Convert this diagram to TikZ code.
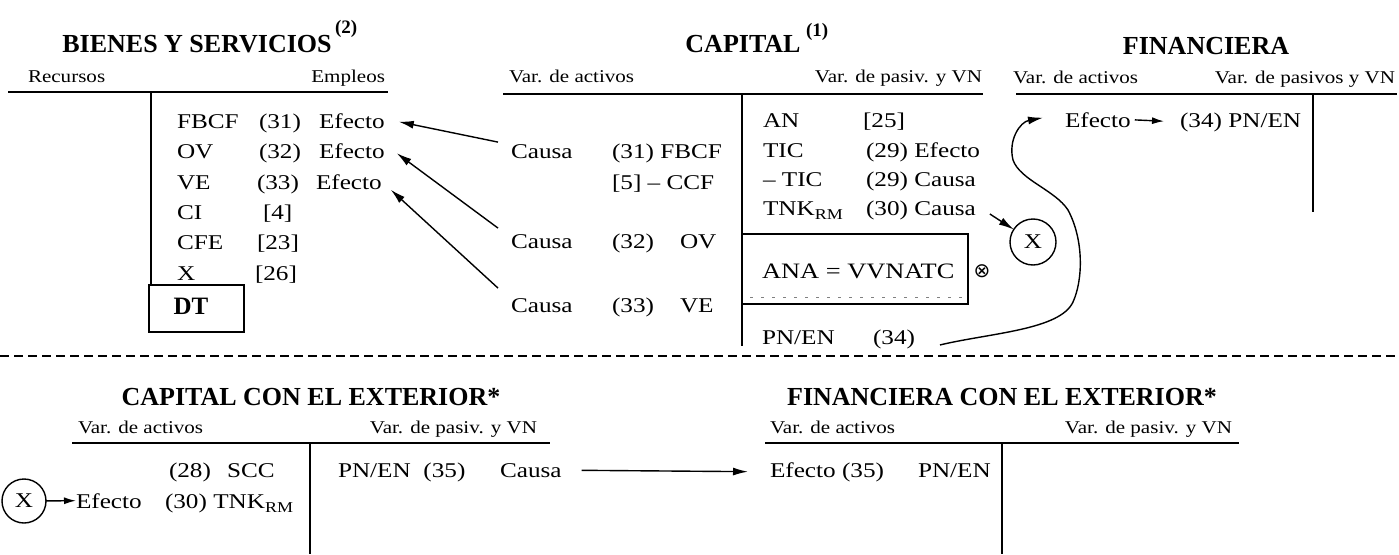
\documentclass[tikz,border=0pt]{standalone}
\usepackage{fontspec}
\setmainfont{Liberation Serif}
\newfontfamily\bodyfont[FakeStretch=1.2,Ligatures=TeX]{Liberation Serif}
\newfontfamily\labfont[FakeStretch=1.17,Ligatures=TeX]{Liberation Serif}
\newfontfamily\symfont{DejaVu Sans}
\usetikzlibrary{arrows.meta,calc}
% lowered "RM" index used in TNK_RM
\newcommand{\rmidx}{\raisebox{-0.22em}{\fontsize{15}{15}\selectfont RM}}

\tikzset{
  every node/.style={inner sep=0pt, outer sep=0pt},
  txt/.style={anchor=base west, font=\bodyfont\fontsize{21}{25}\selectfont},
  lab/.style={anchor=base west, font=\labfont\fontsize{18}{20}\selectfont},
  labr/.style={anchor=base east, font=\labfont\fontsize{18}{20}\selectfont},
  ttl/.style={anchor=base, font=\bfseries\fontsize{26}{30}\selectfont},
  supmark/.style={anchor=base west, font=\bfseries\fontsize{19}{20}\selectfont},
  rule/.style={line width=1.8pt},
  arr/.style={line width=1.4pt, -{Latex[length=15pt,width=8pt]}},
  sarr/.style={line width=1.4pt, -{Latex[length=12pt,width=7pt]}},
  xcirc/.style={circle, draw, line width=1.4pt, minimum size=46pt,
                font=\bodyfont\fontsize{21}{25}\selectfont},
}

\begin{document}
\begin{tikzpicture}[x=1pt,y=-1pt]
\useasboundingbox (0,0) rectangle (1399,554);

% ---------------- BIENES Y SERVICIOS ----------------
\node[ttl] (tBS) at (197,52) {BIENES Y SERVICIOS};
\node[supmark] (sBS) at (335,33) {(2)};
\node[lab] (recursos) at (28,82) {Recursos};
\node[labr] (empleos) at (385,82) {Empleos};
\draw[rule] (8,92) -- (388,92);
\draw[rule] (151,92) -- (151,285);

\node[txt] (bs1a) at (177,128) {FBCF};
\node[txt] (bs1b) at (259,128) {(31)};
\node[txt] (ef1)  at (319,128) {Efecto};
\node[txt] (bs2a) at (177,158.5) {OV};
\node[txt] (bs2b) at (259,158.5) {(32)};
\node[txt] (ef2)  at (319,158.5) {Efecto};
\node[txt] (bs3a) at (177,189) {VE};
\node[txt] (bs3b) at (257,189) {(33)};
\node[txt] (ef3)  at (316,189) {Efecto};
\node[txt] (bs4a) at (177,219) {CI};
\node[txt] (bs4b) at (263,219) {[4]};
\node[txt] (bs5a) at (177,249.5) {CFE};
\node[txt] (bs5b) at (257,249.5) {[23]};
\node[txt] (bs6a) at (177,280) {X};
\node[txt] (bs6b) at (255,280) {[26]};

\draw[rule] (149,285) rectangle (244,332);
\node[anchor=base, font=\bfseries\fontsize{25}{28}\selectfont] (dt) at (191,314) {DT};

% ---------------- CAPITAL ----------------
\node[ttl] (tCap) at (743,52) {CAPITAL};
\node[supmark] (sCap) at (806,36) {(1)};
\node[lab] (capva) at (509,82) {Var. de activos};
\node[labr] (capvp) at (982,82) {Var. de pasiv. y VN};
\draw[rule] (503,94) -- (983,94);
\draw[rule] (742,94) -- (742,346);

\node[txt] (ca1) at (511,158) {Causa};
\node[txt] (cfb) at (612,158) {(31) FBCF};
\node[txt] (ccf) at (612,189) {[5] – CCF};
\node[txt] (ca2) at (511,248) {Causa};
\node[txt] (c32) at (612,248) {(32)};
\node[txt] (cov) at (680,248) {OV};
\node[txt] (ca3) at (511,312) {Causa};
\node[txt] (c33) at (612,312) {(33)};
\node[txt] (cve) at (680,312) {VE};

\node[txt] (an)   at (763,127) {AN};
\node[txt] (an25) at (863,127) {[25]};
\node[txt] (tic)  at (763,157) {TIC};
\node[txt] (t29e) at (866,157) {(29) Efecto};
\node[txt] (mtic) at (763,186) {– TIC};
\node[txt] (t29c) at (866,186) {(29) Causa};
\node[txt] (tnk)  at (763,215) {TNK\rmidx};
\node[txt] (c30)  at (866,215) {(30) Causa};

\draw[rule] (742,234) rectangle (968,304);
\draw[line width=1pt, gray, dash pattern=on 3pt off 8pt] (750,297) -- (962,297);
\node[txt, font=\bodyfont\fontsize{22}{26}\selectfont] (ana) at (762,278) {ANA = VVNATC};
\node[font=\symfont\fontsize{20}{22}\selectfont] (otimes) at (982,271) {⊗};

\node[txt] (pn34a) at (762,344) {PN/EN};
\node[txt] (pn34b) at (873,344) {(34)};

\node[xcirc] (cx1) at (1033,242) {X};

% ---------------- FINANCIERA ----------------
\node[ttl] (tFin) at (1206,54) {FINANCIERA};
\node[lab] (finva) at (1013,83) {Var. de activos};
\node[labr] (finvp) at (1395,83) {Var. de pasivos y VN};
\draw[rule] (1016,94) -- (1397,94);
\draw[rule] (1313,94) -- (1313,212);
\node[txt] (effin) at (1065,127) {Efecto};
\node[txt] (pn34f) at (1180,127) {(34) PN/EN};

% ---------------- separator ----------------
\draw[line width=1.6pt, dash pattern=on 9pt off 5pt] (0,356) -- (1399,356);

% ---------------- CAPITAL CON EL EXTERIOR ----------------
\node[ttl] (tCex) at (311,405) {CAPITAL CON EL EXTERIOR*};
\node[lab] (cexva) at (78,433) {Var. de activos};
\node[labr] (cexvp) at (537,433) {Var. de pasiv. y VN};
\draw[rule] (72,443) -- (550,443);
\draw[rule] (310,443) -- (310,554);
\node[txt] (c28) at (169,477) {(28)};
\node[txt] (scc) at (227,477) {SCC};
\node[txt] (efb) at (76,508) {Efecto};
\node[txt] (c30b) at (165,508) {(30) TNK\rmidx};
\node[xcirc, minimum size=44pt] (cx2) at (24,501) {X};
\node[txt] (pn35) at (338,477) {PN/EN\ \ (35)};
\node[txt] (causab) at (500,477) {Causa};

% ---------------- FINANCIERA CON EL EXTERIOR ----------------
\node[ttl] (tFex) at (1002,405) {FINANCIERA CON EL EXTERIOR*};
\node[lab] (fexva) at (770,433) {Var. de activos};
\node[labr] (fexvp) at (1232,433) {Var. de pasiv. y VN};
\draw[rule] (765,443) -- (1239,443);
\draw[rule] (1002,443) -- (1002,554);
\node[txt] (efc) at (770,477) {Efecto (35)};
\node[txt] (pn35f) at (918,477) {PN/EN};

% ---------------- connectors ----------------
\draw[arr] ($(ca1.north west)+(-13,-2)$) -- ($(ef1.east)+(14,1)$);
\draw[arr] ($(ca2.north west)+(-13,-6)$) -- ($(ef2.east)+(12,2)$);
\draw[arr] ($(ca3.north west)+(-13,-10)$) -- ($(ef3.east)+(9,8)$);

\draw[arr] ($(c30.base east)+(14,-1)$) -- (cx1);

\draw[arr] ($(pn34b.east)+(25,6)$)
  .. controls (990,333) and (1060,330) .. (1073,302)
  .. controls (1083,280) and (1084,240) .. (1068,210)
  .. controls (1055,190) and (1020,180) .. (1013,160)
  .. controls (1008,140) and (1020,122) .. ($(effin.west)+(-22,-2)$);

\draw[sarr, shorten <=4pt, shorten >=16pt] (effin.east) -- (pn34f.west);

\draw[sarr] (cx2) -- (efb.west);
\draw[arr, shorten <=20pt, shorten >=22pt] (causab.east) -- (efc.west);

\end{tikzpicture}
\end{document}
